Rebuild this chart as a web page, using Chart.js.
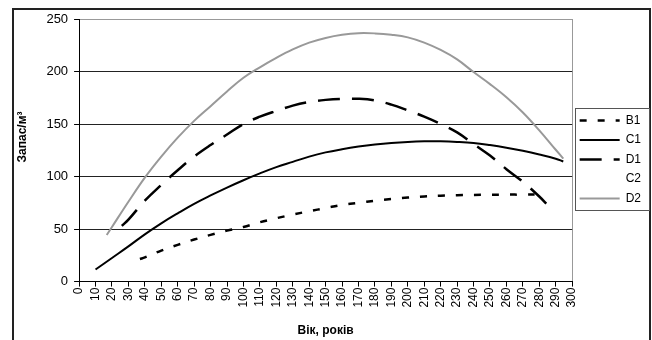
<!DOCTYPE html>
<html>
<head>
<meta charset="utf-8">
<script src="https://cdn.jsdelivr.net/npm/chart.js@4"></script>
<style>
  body { margin: 0; background: #fff; }
</style>
</head>
<body>
<canvas id="lineChart" width="652" height="340"></canvas>
<script>
// Series (age in years, stock m3)
const seriesNames = ['B1', 'C1', 'D1', 'C2', 'D2'];

const agesB1 = [37, 40, 50, 60, 70, 80, 90, 100, 110, 120, 130, 140, 150, 160, 170, 180, 190, 200, 210, 220, 230, 240, 250, 260, 270, 279];
const valuesB1 = [21.5, 23, 29.5, 35, 40, 44.5, 48.5, 52, 56.5, 60.3, 63.8, 67, 70, 73, 75, 77, 78.6, 80, 81, 81.8, 82.2, 82.5, 82.7, 82.8, 82.8, 83];

const agesC1 = [10, 20, 30, 40, 50, 60, 70, 80, 90, 100, 110, 120, 130, 140, 150, 160, 170, 180, 190, 200, 210, 220, 230, 240, 250, 260, 270, 280, 290, 294.6];
const valuesC1 = [11.5, 22.5, 33.5, 45, 55.5, 65, 74, 82, 89.5, 96.5, 103, 109, 114, 119, 123, 126, 128.5, 130.5, 132, 133, 133.5, 133.5, 133, 132, 130, 127.5, 124.5, 121, 117, 114.3];

const agesD1 = [26, 30, 40, 50, 60, 70, 80, 90, 100, 110, 120, 130, 140, 150, 160, 170, 180, 190, 200, 210, 220, 230, 240, 250, 260, 270, 280, 285];
const valuesD1 = [53, 59, 77, 92, 106, 119, 130, 140, 150, 157, 162.5, 167.5, 171, 173, 174, 174, 172.5, 168.5, 163, 157, 150, 142, 131, 120, 107, 95, 81, 73];

const agesC2 = [];
const valuesC2 = [];

const agesD2 = [16.8, 20, 30, 40, 50, 60, 70, 80, 90, 100, 110, 120, 130, 140, 150, 160, 170, 180, 190, 200, 210, 220, 230, 240, 250, 260, 270, 280, 290, 294.6];
const valuesD2 = [44.3, 52, 76, 99, 119, 137, 153, 167, 181, 194, 204, 213, 221, 227.5, 232, 235, 236.5, 236.3, 235, 232.5, 227.5, 220.5, 211.5, 199.5, 188, 175.5, 161, 144, 125.5, 117];

const xTickMin = 0, xTickMax = 300, xTickStep = 10;
const yTickMin = 0, yTickMax = 250, yTickStep = 50;

const toPoints = (ages, values) => ages.map((a, i) => ({ x: a, y: values[i] }));

// outer frame and white background
const framePlugin = {
    id: 'frame',
    beforeDraw(chart) {
        const ctx = chart.ctx;
        ctx.save();
        ctx.fillStyle = '#fff';
        ctx.fillRect(0, 0, chart.width, chart.height);
        ctx.strokeStyle = '#222';
        ctx.lineWidth = 2;
        ctx.strokeRect(13, 9, 637, 340);
        ctx.restore();
    }
};

// box round the legend items
const legendBoxPlugin = {
    id: 'legendBox',
    afterDraw(chart) {
        const lg = chart.legend;
        if (!lg || !lg.legendHitBoxes.length) return;
        const hb = lg.legendHitBoxes;
        const first = hb[0], last = hb[hb.length - 1];
        const ctx = chart.ctx;
        ctx.save();
        ctx.strokeStyle = '#555';
        ctx.lineWidth = 1;
        const top = Math.round(first.top - 6) + 0.5;
        const bottom = Math.round(last.top + last.height + 6) + 0.5;
        const left = Math.round(lg.left + 3) + 0.5;
        ctx.strokeRect(left, top, 649.5 - left, bottom - top);
        ctx.restore();
    }
};

Chart.defaults.font.family = "'Liberation Sans', Arial, sans-serif";
Chart.defaults.color = '#000';

const defaultLabels = Chart.defaults.plugins.legend.labels.generateLabels;

new Chart(document.getElementById('lineChart').getContext('2d'), {
    type: 'line',
    data: {
        datasets: [
            { label: seriesNames[0], data: toPoints(agesB1, valuesB1), borderColor: '#000', borderWidth: 2.5, borderDash: [7, 11] },
            { label: seriesNames[1], data: toPoints(agesC1, valuesC1), borderColor: '#000', borderWidth: 2 },
            { label: seriesNames[2], data: toPoints(agesD1, valuesD1), borderColor: '#000', borderWidth: 2.5, borderDash: [22, 12] },
            { label: seriesNames[3], data: toPoints(agesC2, valuesC2), borderColor: 'rgba(0,0,0,0)', borderWidth: 2 },
            { label: seriesNames[4], data: toPoints(agesD2, valuesD2), borderColor: '#999', borderWidth: 2 }
        ]
    },
    options: {
        responsive: false,
        animation: false,
        devicePixelRatio: 1,
        elements: {
            point: { radius: 0 },
            line: { tension: 0.4, fill: false, borderCapStyle: 'butt' }
        },
        layout: { padding: { left: 11, top: 19, right: 1, bottom: 0 } },
        plugins: {
            tooltip: { enabled: false },
            legend: {
                position: 'right',
                fullSize: false,
                title: { display: true, text: ' ', padding: 2, font: { size: 12 } },
                labels: {
                    usePointStyle: true,
                    pointStyle: 'line',
                    pointStyleWidth: 40,
                    padding: 7.5,
                    color: '#000',
                    font: { size: 12 },
                    // point style legend items lose the dash, put it back from the dataset
                    generateLabels: (chart) => defaultLabels(chart).map((item) => {
                        const ds = chart.data.datasets[item.datasetIndex];
                        item.lineDash = ds.borderDash || [];
                        item.lineWidth = ds.borderWidth;
                        item.strokeStyle = ds.borderColor;
                        return item;
                    })
                }
            }
        },
        scales: {
            x: {
                type: 'linear',
                min: xTickMin,
                max: xTickMax,
                ticks: {
                    stepSize: xTickStep,
                    autoSkip: false,
                    minRotation: 90,
                    maxRotation: 90,
                    padding: 1,
                    color: '#000',
                    font: { size: 12 }
                },
                grid: {
                    drawOnChartArea: true,
                    color: (c) => (c.tick && c.tick.value === xTickMax ? '#999' : 'rgba(0,0,0,0)'),
                    tickColor: '#000',
                    tickLength: 5
                },
                border: { color: '#000', width: 1 },
                title: {
                    display: true,
                    text: 'Вік, років',
                    color: '#000',
                    font: { size: 12, weight: 'bold' },
                    padding: { top: 15, bottom: 2 }
                }
            },
            y: {
                min: yTickMin,
                max: yTickMax,
                ticks: {
                    stepSize: yTickStep,
                    padding: 6,
                    color: '#000',
                    font: { size: 13 }
                },
                grid: {
                    color: (c) => (c.tick && c.tick.value === yTickMax ? '#999' : '#222'),
                    tickColor: '#000',
                    tickLength: 5
                },
                border: { color: '#000', width: 1 },
                title: {
                    display: true,
                    text: '\u00a0\u00a0\u00a0\u00a0\u00a0\u00a0\u00a0\u00a0Запас/м³',
                    color: '#000',
                    font: { size: 12, weight: 'bold' },
                    padding: { top: 4, bottom: 11 }
                }
            }
        }
    },
    plugins: [framePlugin, legendBoxPlugin]
});
</script>
</body>
</html>
